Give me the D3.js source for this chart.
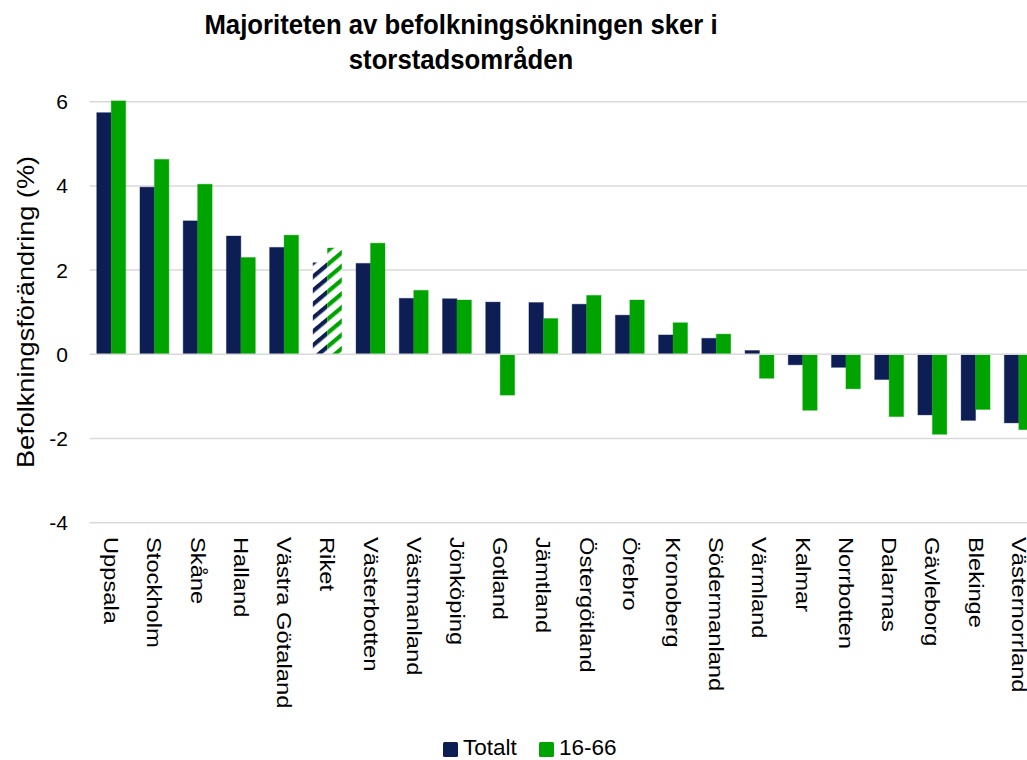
<!DOCTYPE html>
<html>
<head>
<meta charset="utf-8">
<script src="https://cdn.jsdelivr.net/npm/d3@7"></script>
<style>
  body { margin: 0; background: #fff; }
  svg { display: block; font-family: "Liberation Sans", Arial, sans-serif; }
</style>
</head>
<body>
<div id="chart"></div>
<script>
const regions = ["Uppsala", "Stockholm", "Skåne", "Halland", "Västra Götaland", "Riket",
  "Västerbotten", "Västmanland", "Jönköping", "Gotland", "Jämtland", "Östergötland",
  "Örebro", "Kronoberg", "Södermanland", "Värmland", "Kalmar", "Norrbotten",
  "Dalarnas", "Gävleborg", "Blekinge", "Västernorrland"];
const totalt = [5.74, 3.97, 3.17, 2.81, 2.54, 2.18, 2.16, 1.33, 1.32, 1.24, 1.23, 1.19,
  0.93, 0.46, 0.38, 0.09, -0.25, -0.31, -0.60, -1.44, -1.57, -1.63];
const age1666 = [6.02, 4.63, 4.04, 2.30, 2.83, 2.53, 2.64, 1.52, 1.29, -0.97, 0.85, 1.40,
  1.29, 0.75, 0.48, -0.57, -1.33, -0.82, -1.48, -1.90, -1.31, -1.79];
const seriesNames = ["Totalt", "16-66"];
const yTicks = [-4, -2, 0, 2, 4, 6];
const colors = { "Totalt": "#0c1e54", "16-66": "#00a400" };
const hatched = "Riket";

const W = 1027, H = 760;
const svg = d3.select("#chart").append("svg")
  .attr("width", W)
  .attr("height", H);

// data rows
let rows = regions.map((r, i) => ({ region: r, values: [
  { key: "Totalt", value: totalt[i] },
  { key: "16-66", value: age1666[i] }
]}));

let x0 = d3.scaleBand().domain(regions).range([89.6, 1040.4])
  .paddingInner(0.33).paddingOuter(0.165);
let x1 = d3.scaleBand().domain(seriesNames).range([0, x0.bandwidth()]);
let y = d3.scaleLinear().domain([-4, 6]).range([522.7, 101.7]);

// hatch patterns for Riket
let defs = svg.append("defs");
seriesNames.forEach((s, i) => {
  let p = defs.append("pattern")
    .attr("id", "hatch" + i)
    .attr("patternUnits", "userSpaceOnUse")
    .attr("width", 12).attr("height", 10.5)
    .attr("patternTransform", "rotate(-40)");
  p.append("rect").attr("width", 12).attr("height", 10.5).attr("fill", "#fff");
  p.append("rect").attr("y", 0).attr("width", 12).attr("height", 4.2).attr("fill", colors[s]);
});

// gridlines
svg.append("g").selectAll("line")
  .data(yTicks.filter(d => d !== 0))
  .join("line")
  .attr("x1", 89.6).attr("x2", W)
  .attr("y1", d => y(d)).attr("y2", d => y(d))
  .attr("stroke", "#d9d9d9").attr("stroke-width", 1.5);

// bars
let groups = svg.append("g").selectAll("g")
  .data(rows)
  .join("g")
  .attr("transform", d => `translate(${x0(d.region)},0)`);

groups.selectAll("rect")
  .data(d => d.values.map((v, i) => ({ ...v, region: d.region, i: i })))
  .join("rect")
  .attr("x", d => x1(d.key))
  .attr("width", x1.bandwidth())
  .attr("y", d => y(Math.max(0, d.value)))
  .attr("height", d => Math.abs(y(d.value) - y(0)))
  .attr("fill", d => d.region === hatched ? `url(#hatch${d.i})` : colors[d.key])
  .attr("stroke", d => d.region === hatched ? "none" : colors[d.key])
  .attr("stroke-opacity", 0.35)
  .attr("stroke-width", 1);

// zero axis line
svg.append("line")
  .attr("x1", 89.6).attr("x2", W)
  .attr("y1", y(0)).attr("y2", y(0))
  .attr("stroke", "#d9d9d9").attr("stroke-width", 1.5);

// y tick labels
svg.append("g").selectAll("text")
  .data(yTicks)
  .join("text")
  .attr("x", 68).attr("y", d => y(d))
  .attr("dy", "0.36em")
  .attr("text-anchor", "end")
  .attr("font-size", 21)
  .attr("fill", "#000")
  .text(d => d);

// y axis title (text in the reference is drawn a bit stretched along its length)
svg.append("text")
  .attr("transform", "translate(34,312) rotate(-90) scale(1.18,1)")
  .attr("text-anchor", "middle")
  .attr("font-size", 23)
  .attr("fill", "#000")
  .text("Befolkningsförändring (%)");

// category labels
svg.append("g").selectAll("text")
  .data(regions)
  .join("text")
  .attr("transform", d => `translate(${x0(d) + x0.bandwidth() / 2 - 7},537) rotate(90) scale(1.13,1)`)
  .attr("text-anchor", "start")
  .attr("font-size", 21)
  .attr("fill", "#000")
  .text(d => d);

// title
svg.append("g").selectAll("text")
  .data(["Majoriteten av befolkningsökningen sker i", "storstadsområden"])
  .join("text")
  .attr("transform", (d, i) => `translate(461,${34 + i * 34.5}) scale(0.99,1.08)`)
  .attr("text-anchor", "middle")
  .attr("font-size", 26)
  .attr("font-weight", "bold")
  .attr("fill", "#000")
  .text(d => d);

// legend
let legendX = [443, 539];
let legend = svg.append("g").selectAll("g")
  .data(seriesNames)
  .join("g")
  .attr("transform", (d, i) => `translate(${legendX[i]},742)`);
legend.append("rect")
  .attr("width", 15).attr("height", 15).attr("rx", 1.5)
  .attr("fill", d => colors[d]);
legend.append("text")
  .attr("x", 20).attr("y", 13)
  .attr("font-size", 22.5)
  .attr("fill", "#000")
  .text(d => d);
</script>
</body>
</html>
